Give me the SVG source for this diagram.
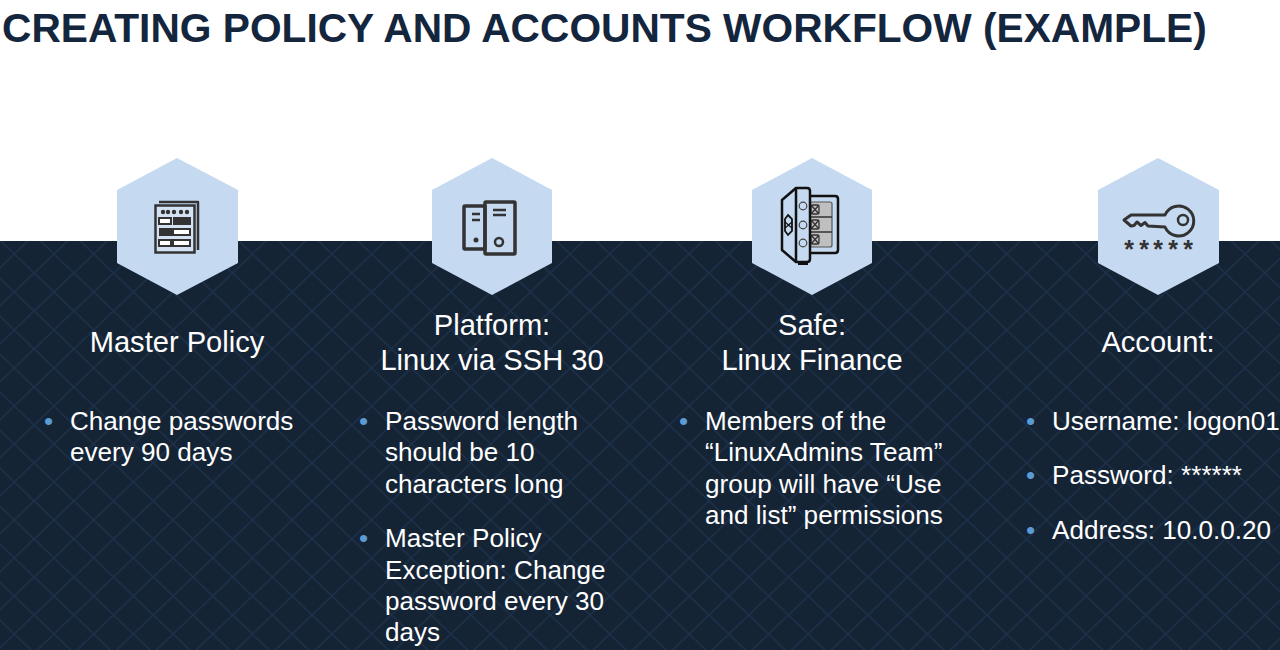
<svg xmlns="http://www.w3.org/2000/svg" width="1280" height="650" viewBox="0 0 1280 650">
<style>
text{font-family:"Liberation Sans",Arial,sans-serif}
.t{font-size:26.1px;fill:#fff}
.c{font-size:29.1px;fill:#fff;text-anchor:middle}
.b{font-size:26.1px;fill:#5b9bd5}
.h{fill:#c5d9f0}
.i{fill:none;stroke:#333;stroke-width:2.5;stroke-linejoin:round}
.w{fill:#fff;stroke:#333;stroke-width:2}
.f{fill:#333}
.s{font-size:25px;font-weight:700;fill:#333;text-anchor:middle}
</style>
<defs>
<pattern id="p" width="39.7" height="38" patternUnits="userSpaceOnUse" x="14.300" y="254">
<path d="M0 0L39.700 38M39.700 0L0 38" stroke="#1d314b" stroke-width="1.300" fill="none"/>
</pattern>
</defs>
<rect width="1280" height="650" fill="#fff"/>
<text x="2" y="42" font-size="40.7" font-weight="700" fill="#14263d">CREATING POLICY AND ACCOUNTS WORKFLOW (EXAMPLE)</text>
<rect y="241" width="1280" height="409" fill="#152435"/>
<rect y="241" width="1280" height="409" fill="url(#p)"/>
<g id="node-master-policy">
<polygon class="h" points="177,158 238,190 238,263 177,295 117,263 117,190"/>
<path class="i" d="M159 202H198V250"/>
<rect x="155.500" y="205.500" width="39" height="47" fill="#d3e2f3" stroke="#333" stroke-width="2.500"/>
<rect class="w" x="159" y="218" width="12" height="6"/><rect class="f" x="173" y="217" width="18" height="8"/>
<rect class="f" x="159" y="228" width="14" height="8"/><rect class="w" x="173" y="229" width="17" height="6"/>
<rect class="w" x="159" y="240" width="12" height="6"/><rect class="w" x="173" y="240" width="17" height="6"/>
<g class="f"><circle cx="163" cy="212" r="2.200"/><circle cx="168" cy="212" r="2.200"/><circle cx="174" cy="212" r="2.200"/><circle cx="181" cy="212" r="2.200"/><circle cx="187" cy="212" r="2.200"/></g>
<text class="c" x="177" y="352">Master Policy</text>
<text class="b" x="44" y="430">•</text>
<text class="t" x="70" y="430">Change passwords</text>
<text class="t" x="70" y="461">every 90 days</text>
</g>
<g id="node-platform">
<polygon class="h" points="492,158 552,190 552,263 492,295 432,263 432,190"/>
<g style="stroke-width:3.500" class="i"><rect x="464" y="206" width="21" height="43" rx="1"/><rect x="485" y="202" width="30" height="52" rx="1"/>
<path style="stroke-width:2.500" d="M472 214H480M472 220H480M493 210H506M493 215H506"/><circle style="stroke-width:2.500" cx="499" cy="242" r="4"/></g>
<circle class="f" cx="476" cy="240" r="2.500"/>
<text class="c" x="492" y="335">Platform:</text>
<text class="c" x="492" y="370">Linux via SSH 30</text>
<text class="b" x="359" y="430">•</text>
<text class="t" x="385" y="430">Password length</text>
<text class="t" x="385" y="461">should be 10</text>
<text class="t" x="385" y="493">characters long</text>
<text class="b" x="359" y="547">•</text>
<text class="t" x="385" y="547">Master Policy</text>
<text class="t" x="385" y="579">Exception: Change</text>
<text class="t" x="385" y="610">password every 30</text>
<text class="t" x="385" y="641">days</text>
</g>
<g id="node-safe">
<polygon class="h" points="812,158 872,190 872,263 812,295 752,263 752,190"/>
<path d="M810 196H835Q838 196 838 199V250Q838 253 835 253H810" fill="none" stroke="#111" stroke-width="2.500"/>
<rect x="810" y="202" width="22" height="45" rx="2" fill="#bfbfbf" stroke="#555" stroke-width="1.200"/>
<path d="M810 217H832M810 232H832" stroke="#333" stroke-width="1.500"/>
<g fill="none" stroke="#333" stroke-width="1.300"><rect x="811" y="205" width="8" height="9" rx="2"/><path d="M811 205L819 214M819 205L811 214"/><rect x="811" y="220" width="8" height="9" rx="2"/><path d="M811 220L819 229M819 220L811 229"/><rect x="811" y="235" width="8" height="9" rx="2"/><path d="M811 235L819 244M819 235L811 244"/></g>
<path d="M782 200L796 188H807Q810 188 810 191V259Q810 262 807 262H796L782 250Z" fill="#c5d9f0" stroke="#111" stroke-width="2.500" stroke-linejoin="round"/>
<path d="M796 188V262" stroke="#111" stroke-width="2.500"/>
<path d="M798 263.500H808" stroke="#111" stroke-width="3"/>
<g fill="none" stroke="#444" stroke-width="1.200"><circle cx="803" cy="206" r="3.800"/><circle cx="803" cy="225" r="3.800"/><circle cx="803" cy="243" r="3.800"/></g>
<path d="M788 215L792 219V231L788 235L785 231V219Z" fill="#c5d9f0" stroke="#111" stroke-width="1.800"/>
<path d="M785 222L792 228M792 222L785 228" stroke="#111" stroke-width="1.200"/>
<text class="c" x="812" y="335">Safe:</text>
<text class="c" x="812" y="370">Linux Finance</text>
<text class="b" x="679" y="430">•</text>
<text class="t" x="705" y="430">Members of the</text>
<text class="t" x="705" y="461">“LinuxAdmins Team”</text>
<text class="t" x="705" y="493">group will have “Use</text>
<text class="t" x="705" y="524">and list” permissions</text>
</g>
<g id="node-account">
<polygon class="h" points="1158,158 1219,190 1219,263 1158,295 1098,263 1098,190"/>
<path class="i" style="stroke-width:3" d="M1124 220L1131 215H1165A15 15 0 1 1 1165 227L1148 226L1145 222.500L1141 225.500L1137 222L1134 225.500L1131 226Z"/>
<circle class="i" cx="1183" cy="220" r="5"/>
<text class="s" x="1129" y="258">*</text><text class="s" x="1144" y="258">*</text><text class="s" x="1158" y="258">*</text><text class="s" x="1173" y="258">*</text><text class="s" x="1188" y="258">*</text>
<text class="c" x="1158" y="352">Account:</text>
<text class="b" x="1026" y="430">•</text>
<text class="t" x="1052" y="430">Username: logon01</text>
<text class="b" x="1026" y="484">•</text>
<text class="t" x="1052" y="484">Password: ******</text>
<text class="b" x="1026" y="539">•</text>
<text class="t" x="1052" y="539">Address: 10.0.0.20</text>
</g>
</svg>
